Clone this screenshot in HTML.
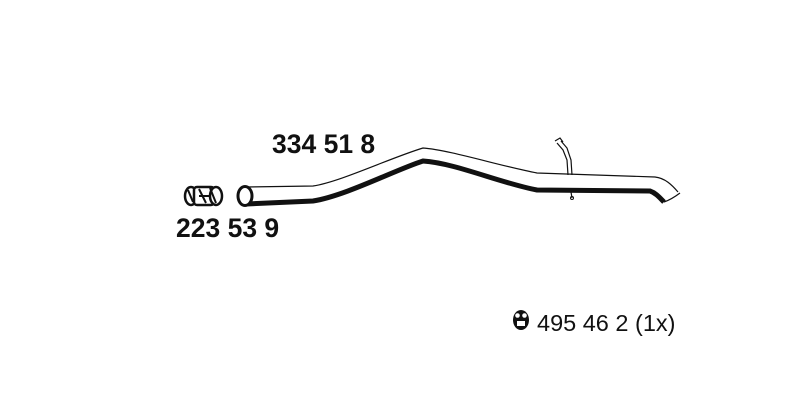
<!DOCTYPE html>
<html><head><style>
html,body{margin:0;padding:0;background:#fff;}
body{width:800px;height:400px;position:relative;overflow:hidden;font-family:"Liberation Sans",Arial,sans-serif;}
.t{position:absolute;color:#111;white-space:nowrap;}
</style></head><body>
<svg width="800" height="400" style="position:absolute;left:0;top:0">
 <path d="M245,187 L313,186 C340,182 390,158 423,148 C450,150 500,166 537,173 L655,177 C665,178 672,185 678,192" fill="none" stroke="#111" stroke-width="1.2"/>
 <path d="M246,204 L313,201 C345,196 395,170 423,161 C455,163 500,183 537,190 L650,191 C656,193 660,198 664,202" fill="none" stroke="#111" stroke-width="5"/>
 <path d="M664,202 C670,200 676,196 680,193" fill="none" stroke="#111" stroke-width="1.2"/>
 <ellipse cx="245" cy="196" rx="7" ry="9.5" fill="#fff" stroke="#111" stroke-width="3"/>
 <path d="M557,143 L563,150 L567,160 L568,175 M561,141 L567,148 L571,160 L572,175" fill="none" stroke="#111" stroke-width="1.2"/>
 <path d="M555,141 L560,138 L563,142" fill="none" stroke="#111" stroke-width="1.2"/>
 <path d="M571,192 L572,198" stroke="#111" stroke-width="1.2"/>
 <circle cx="572" cy="198" r="1.5" fill="none" stroke="#111" stroke-width="1"/>
 <g stroke="#111" fill="#fff" stroke-width="2.5">
  <ellipse cx="191" cy="196" rx="6" ry="9"/>
  <rect x="194" y="187" width="20" height="18" rx="3"/>
  <ellipse cx="216" cy="196" rx="6" ry="9"/>
 </g>
 <path d="M188,190 L193,202 M199,189 L206,203 M210,188 L216,203 M199,196 L211,196" stroke="#111" stroke-width="2"/>
 <ellipse cx="521" cy="320" rx="8" ry="10" fill="#111"/>
 <circle cx="517.5" cy="315.5" r="2.3" fill="#fff"/>
 <circle cx="524.5" cy="315.5" r="2.3" fill="#fff"/>
 <rect x="517" y="321" width="8" height="5" fill="#fff"/>
</svg>
<div class="t" style="left:272px;top:129px;font-size:26.5px;font-weight:bold;">334 51 8</div>
<div class="t" style="left:176px;top:213px;font-size:26.5px;font-weight:bold;">223 53 9</div>
<div class="t" style="left:537px;top:310px;font-size:23.5px;">495 46 2 (1x)</div>
</body></html>
